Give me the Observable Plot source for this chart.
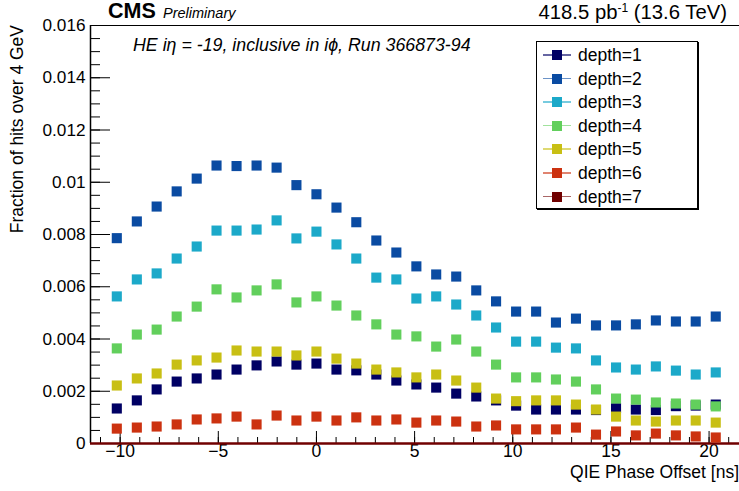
<!DOCTYPE html>
<html>
<head>
<meta charset="utf-8">
<script src="https://cdn.jsdelivr.net/npm/d3@7"></script>
<script src="https://cdn.jsdelivr.net/npm/@observablehq/plot@0.6"></script>
<style>
  html, body { margin: 0; padding: 0; background: #fff; }
  #wrap { position: relative; width: 739px; height: 491px; font-family: "Liberation Sans", Arial, Helvetica, sans-serif; color: #000; }
  #wrap svg { position: absolute; left: 0; top: 0; }
  .ov { position: absolute; white-space: nowrap; line-height: 1; }
  #legend { position: absolute; left: 536px; top: 41px; width: 160px; height: 166px; border: 1px solid #000; box-shadow: 1px 1px 0 #000; background: #fff; }
  .lg { position: absolute; left: 0; height: 20px; width: 160px; }
  .lg .ln { position: absolute; left: 6px; top: 9px; width: 28px; height: 1.5px; opacity: 0.6; }
  .lg .mk { position: absolute; left: 15px; top: 5px; width: 10px; height: 10px; }
  .lg .tx { position: absolute; left: 41px; top: 0px; font-size: 17.5px; }
</style>
</head>
<body>
<div id="wrap"></div>
<script>
// ---- data ----
const phase = [-10.17, -9.15, -8.14, -7.12, -6.10, -5.09, -4.07, -3.05, -2.03, -1.02, 0, 1.02, 2.03, 3.05, 4.07, 5.09, 6.10, 7.12, 8.14, 9.15, 10.17, 11.19, 12.20, 13.22, 14.24, 15.26, 16.27, 17.29, 18.31, 19.32, 20.34];
const depth1 = [0.00134, 0.00165, 0.00207, 0.00237, 0.00249, 0.00264, 0.00283, 0.00299, 0.00314, 0.00302, 0.00306, 0.00283, 0.00280, 0.00264, 0.00241, 0.00226, 0.00214, 0.00191, 0.00180, 0.00165, 0.00145, 0.00130, 0.00130, 0.00130, 0.00128, 0.00135, 0.00130, 0.00128, 0.00143, 0.00145, 0.00149];
const depth2 = [0.00786, 0.00850, 0.00907, 0.00965, 0.01014, 0.01064, 0.01062, 0.01064, 0.01056, 0.00989, 0.00954, 0.00903, 0.00847, 0.00777, 0.00731, 0.00678, 0.00647, 0.00639, 0.00586, 0.00544, 0.00505, 0.00505, 0.00463, 0.00478, 0.00452, 0.00452, 0.00456, 0.00471, 0.00467, 0.00467, 0.00486];
const depth3 = [0.00563, 0.00628, 0.00651, 0.00708, 0.00754, 0.00815, 0.00815, 0.00819, 0.00854, 0.00785, 0.00811, 0.00762, 0.00708, 0.00635, 0.00628, 0.00555, 0.00563, 0.00532, 0.00490, 0.00444, 0.00390, 0.00390, 0.00367, 0.00364, 0.00318, 0.00291, 0.00283, 0.00295, 0.00279, 0.00264, 0.00272];
const depth4 = [0.00364, 0.00417, 0.00436, 0.00486, 0.00524, 0.00590, 0.00559, 0.00586, 0.00609, 0.00540, 0.00563, 0.00528, 0.00490, 0.00456, 0.00417, 0.00410, 0.00371, 0.00398, 0.00352, 0.00302, 0.00253, 0.00253, 0.00245, 0.00237, 0.00207, 0.00172, 0.00168, 0.00157, 0.00153, 0.00149, 0.00142];
const depth5 = [0.00222, 0.00249, 0.00268, 0.00302, 0.00318, 0.00329, 0.00356, 0.00352, 0.00352, 0.00337, 0.00352, 0.00325, 0.00306, 0.00283, 0.00272, 0.00253, 0.00264, 0.00241, 0.00214, 0.00172, 0.00162, 0.00165, 0.00165, 0.00149, 0.00130, 0.00103, 0.00088, 0.00084, 0.00088, 0.00088, 0.00080];
const depth6 = [0.00057, 0.00061, 0.00065, 0.00073, 0.00092, 0.00096, 0.00103, 0.00073, 0.00107, 0.00088, 0.00103, 0.00088, 0.00100, 0.00088, 0.00092, 0.00080, 0.00088, 0.00084, 0.00065, 0.00069, 0.00054, 0.00054, 0.00054, 0.00061, 0.00034, 0.00046, 0.00031, 0.00038, 0.00031, 0.00027, 0.00023];
const depth7 = [0, 0, 0, 0, 0, 0, 0, 0, 0, 0, 0, 0, 0, 0, 0, 0, 0, 0, 0, 0, 0, 0, 0, 0, 0, 0, 0, 0, 0, 0, 0];
const seriesNames = ["depth=1", "depth=2", "depth=3", "depth=4", "depth=5", "depth=6", "depth=7"];
const seriesColors = ["#000064", "#0a4ba2", "#1ca9c9", "#62cf5c", "#c8bf14", "#cc3210", "#700000"];
const xMajor = [-10, -5, 0, 5, 10, 15, 20];
const xMinor = d3.range(-11, 22);
const yMajor = [0, 0.002, 0.004, 0.006, 0.008, 0.01, 0.012, 0.014, 0.016];
const yMinor = d3.range(0, 0.01601, 0.0005);

// ---- build ----
const allSeries = [depth1, depth2, depth3, depth4, depth5, depth6];
const rows = [];
allSeries.forEach((s, i) => s.forEach((v, j) => rows.push({x: phase[j], y: v, k: i})));

const W = 739, H = 491;
const mL = 90, mR = 0, mT = 25, mB = 48;
const fw = W - mL - mR, fh = H - mT - mB;
const xDom = [-11.51, 21.55], yDom = [0, 0.016];
// tick lengths in px converted to data units
const yPx = (px) => yDom[0] + px / fh * (yDom[1] - yDom[0]);
const xPx = (px) => xDom[0] + px / fw * (xDom[1] - xDom[0]);

const chart = Plot.plot({
  width: W, height: H,
  marginLeft: mL, marginRight: mR, marginTop: mT, marginBottom: mB,
  style: {fontFamily: "'Liberation Sans', Arial, Helvetica, sans-serif", fontSize: "17px", color: "#000", background: "transparent"},
  x: {domain: xDom},
  y: {domain: yDom},
  marks: [
    Plot.axisX({ticks: xMajor, tickSize: 0, tickPadding: 1, tickFormat: d3.format("d"), label: null, fontSize: 17.5}),
    Plot.axisY({ticks: yMajor, tickSize: 0, tickPadding: 5, tickFormat: d => String(+d.toFixed(3)), label: null, fontSize: 17.2}),
    // x ticks (inward)
    Plot.ruleX(xMinor, {x: d => d, y1: yDom[0], y2: yPx(6), stroke: "#000", strokeWidth: 1}),
    Plot.ruleX(xMajor, {x: d => d, y1: yDom[0], y2: yPx(12), stroke: "#000", strokeWidth: 1}),
    // y ticks (inward)
    Plot.ruleY(yMinor, {y: d => d, x1: xDom[0], x2: xPx(10), stroke: "#000", strokeWidth: 1}),
    Plot.ruleY(yMajor, {y: d => d, x1: xDom[0], x2: xPx(20), stroke: "#000", strokeWidth: 1}),
    // frame lines
    Plot.ruleX([xDom[0]], {stroke: "#000", strokeWidth: 1.5}),
    Plot.ruleY([yDom[1]], {stroke: "#000", strokeWidth: 1}),
    // depth 7 (all at zero)
    Plot.ruleY([d3.max(depth7)], {stroke: seriesColors[6], strokeWidth: 2.5}),
    // markers
    Plot.dot(rows, {x: "x", y: "y", symbol: "square", r: 5.7, fill: d => seriesColors[d.k], stroke: "none"})
  ]
});

const wrap = document.getElementById("wrap");
wrap.appendChild(chart);

function ov(html, css) {
  const d = document.createElement("div");
  d.className = "ov";
  d.innerHTML = html;
  Object.assign(d.style, css);
  wrap.appendChild(d);
  return d;
}
ov('<b>CMS</b>', {left: "108px", top: "1px", fontSize: "21.5px"});
ov('<i>Preliminary</i>', {left: "163px", top: "6px", fontSize: "14.5px"});
ov('418.5 pb<sup style="font-size:12px;vertical-align:7px;line-height:0">-1</sup> (13.6 TeV)', {right: "12px", top: "2px", fontSize: "20.3px"});
ov('<i>HE i&eta; = -19, inclusive in i&#981;, Run 366873-94</i>', {left: "133px", top: "37px", fontSize: "17.8px"});
ov('QIE Phase Offset [ns]', {right: "0px", top: "464px", fontSize: "17.5px"});
ov('Fraction of hits over 4 GeV', {left: "9px", top: "25px", fontSize: "17.5px", transformOrigin: "0 0", transform: "rotate(-90deg) translate(-100%, 0)"});

// legend
const lg = document.createElement("div");
lg.id = "legend";
wrap.appendChild(lg);
seriesNames.forEach((n, i) => {
  const e = document.createElement("div");
  e.className = "lg";
  e.style.top = (3 + i * 23.6) + "px";
  e.innerHTML = `<div class="ln" style="background:${seriesColors[i]}"></div><div class="mk" style="background:${seriesColors[i]}"></div><div class="tx">${n}</div>`;
  lg.appendChild(e);
});
</script>
</body>
</html>
